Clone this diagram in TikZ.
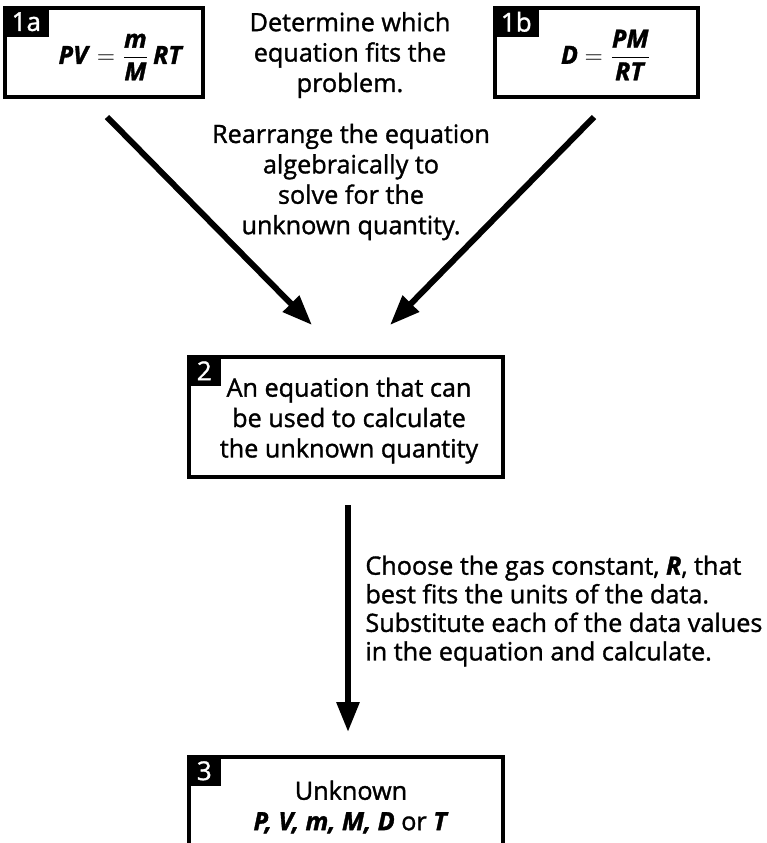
\documentclass[tikz,border=0pt]{standalone}
\usepackage{fontspec}
\setmainfont{Open Sans}[RawFeature={embolden=1.3}]
\usetikzlibrary{arrows.meta}
\newcommand\bitx[1]{\textbf{\textit{#1}}}
\begin{document}
\begin{tikzpicture}[x=0.5pt,y=-0.5pt,
  box/.style={draw=black,line width=1.6pt,inner sep=0pt},
  tag/.style={fill=black,text=white,inner sep=0pt,minimum height=15pt,
    font=\fontsize{13pt}{13pt}\selectfont,anchor=north west},
  txt/.style={inner sep=0pt,font=\fontsize{12.6pt}{15.2pt}\selectfont},
  eq/.style={inner sep=0pt,font=\fontsize{12.5pt}{14pt}\selectfont},
  arr/.style={line width=3pt,-{Triangle[length=15pt,width=11pt]}}]
\useasboundingbox (0,0) rectangle (767,843);
\clip (0,0) rectangle (767,843);
% boxes
\node[box,minimum width=99pt,minimum height=44.5pt] (b1a) at (104,52.5) {};
\node[box,minimum width=101.5pt,minimum height=44.5pt] (b1b) at (596.5,52.5) {};
\node[box,minimum width=157pt,minimum height=60pt] (b2) at (346,417) {};
\node[box,minimum width=157pt,minimum height=73pt] (b3) at (346,830) {};
% tags
\node[tag,minimum width=22.5pt] (t1a) at (b1a.north west) {1a};
\node[tag,minimum width=22.5pt] (t1b) at (b1b.north west) {1b};
\node[tag,minimum width=16.5pt] (t2) at (b2.north west) {2};
\node[tag,minimum width=16.5pt] (t3) at (b3.north west) {3};
% equations
\node[eq] (e1a) at (121,57) {$\bitx{PV} = \displaystyle\frac{\bitx{m}}{\bitx{M}}\,\bitx{RT}$};
\node[eq] (e1b) at (606,55) {$\bitx{D} = \displaystyle\frac{\bitx{PM}}{\bitx{RT}}$};
% texts
\node[txt,align=center] (det) at (350,55) {Determine which\\equation fits the\\problem.};
\node[txt,align=center] (rea) at (351,182) {Rearrange the equation\\algebraically to\\solve for the\\unknown quantity.};
\node[txt,align=center] (x2) at (349,420.5) {An equation that can\\be used to calculate\\the unknown quantity};
\node[txt,align=left,anchor=west,font=\fontsize{12.6pt}{14.3pt}\selectfont] (cho) at (365,611) {Choose the gas constant, \bitx{R}, that\\best fits the units of the data.\\Substitute each of the data values\\in the equation and calculate.};
\node[txt,align=center] (x3) at (351,807) {Unknown\\\bitx{P, V, m, M, D} or \bitx{T}};
% arrows
\coordinate (s1) at (107,117);
\coordinate (s2) at (594,117);
\coordinate (m1) at (312,325);
\coordinate (m2) at (390,325);
\coordinate (s3) at (348,505);
\coordinate (m3) at (348,732);
\draw[arr] (s1) -- (m1);
\draw[arr] (s2) -- (m2);
\draw[arr] (s3) -- (m3);
\end{tikzpicture}
\end{document}
